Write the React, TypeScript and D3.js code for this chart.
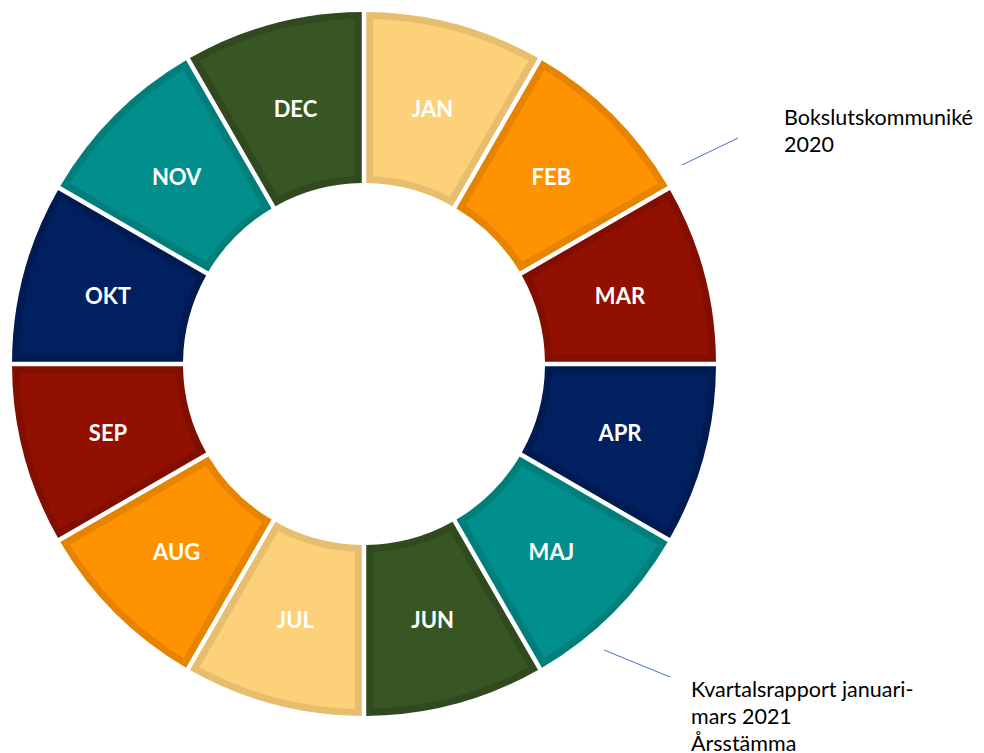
import React from 'react';
import * as d3 from 'd3';

// months on the wheel, clockwise from the top
const months = ['JAN', 'FEB', 'MAR', 'APR', 'MAJ', 'JUN', 'JUL', 'AUG', 'SEP', 'OKT', 'NOV', 'DEC'];
const monthShares = [1, 1, 1, 1, 1, 1, 1, 1, 1, 1, 1, 1];
const fillColors = ['#FDD17A', '#FF9200', '#921000', '#002060', '#008F8C', '#375623'];
const edgeColors = ['#E6BE6E', '#E68400', '#820E00', '#001A52', '#007E7B', '#30491E'];

const notes = [
  { lines: ['Bokslutskommuniké', '2020'], from: [682, 165], to: [738, 138], tx: 784, ty: 125 },
  { lines: ['Kvartalsrapport januari-', 'mars 2021', 'Årsstämma'], from: [604, 650], to: [670, 677], tx: 691, ty: 697 },
];

const width = 984;
const height = 753;
const cx = 364;
const cy = 364;
const outerR = 352;
const innerR = 181;
const edge = 7;

const App: React.FC = () => {
  const pie = d3.pie<number>().sort(null).value(d => d);
  const slices = pie(monthShares);

  const outerArc = d3.arc<d3.PieArcDatum<number>>()
    .innerRadius(innerR)
    .outerRadius(outerR)
    .padRadius(100)
    .padAngle(0.045);

  const innerArc = d3.arc<d3.PieArcDatum<number>>()
    .innerRadius(innerR + edge)
    .outerRadius(outerR - edge)
    .padRadius(100)
    .padAngle(0.045 + (2 * edge) / 100);

  const labelArc = d3.arc<d3.PieArcDatum<number>>()
    .innerRadius(265)
    .outerRadius(265);

  return (
    <svg width={width} height={height} style={{ position: 'absolute', left: 0, top: 0 }}>
      <rect width={width} height={height} fill="#ffffff" />
      <g transform={`translate(${cx},${cy})`}>
        {slices.map((s, i) => (
          <g key={months[i]}>
            <path d={outerArc(s) || ''} fill={edgeColors[i % 6]} />
            <path d={innerArc(s) || ''} fill={fillColors[i % 6]} />
          </g>
        ))}
        {slices.map((s, i) => {
          const [x, y] = labelArc.centroid(s);
          return (
            <text
              key={'t' + months[i]}
              x={x}
              y={y}
              textAnchor="middle"
              dominantBaseline="central"
              fill="#ffffff"
              fontFamily="Lato, 'Open Sans', sans-serif"
              fontWeight="bold"
              fontSize={22}
            >
              {months[i]}
            </text>
          );
        })}
      </g>
      {notes.map((n, i) => (
        <g key={'n' + i}>
          <line x1={n.from[0]} y1={n.from[1]} x2={n.to[0]} y2={n.to[1]} stroke="#4472C4" strokeWidth={1} />
          {n.lines.map((l, j) => (
            <text
              key={j}
              x={n.tx}
              y={n.ty + j * 27}
              fill="#000000"
              fontFamily="Lato, 'Open Sans', sans-serif"
              fontSize={21.5}
            >
              {l}
            </text>
          ))}
        </g>
      ))}
    </svg>
  );
};

export default App;
